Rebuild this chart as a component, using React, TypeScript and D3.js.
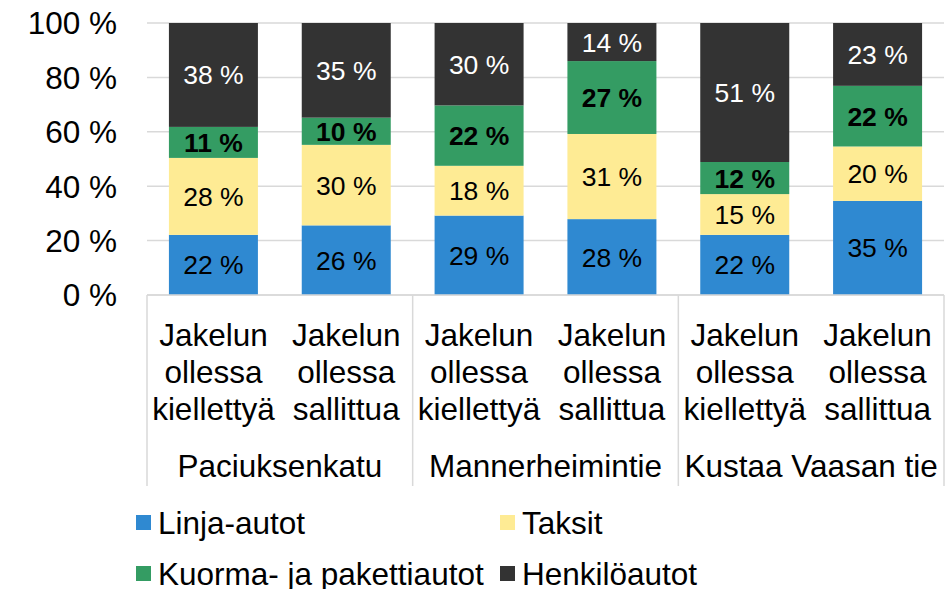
import * as d3 from "d3";

const groups = ["Paciuksenkatu", "Mannerheimintie", "Kustaa Vaasan tie"];
const situations = [
  ["Jakelun", "ollessa", "kiellettyä"],
  ["Jakelun", "ollessa", "sallittua"],
];
const seriesNames = ["Linja-autot", "Taksit", "Kuorma- ja pakettiautot", "Henkilöautot"];
const linjaAutot = [22.1, 25.6, 29.2, 27.9, 22.1, 34.6];
const taksit = [28.3, 29.6, 18.3, 31.3, 15.0, 20.0];
const kuormaAutot = [11.4, 10.0, 22.2, 26.8, 11.8, 22.3];
const henkiloAutot = [38.2, 34.8, 30.3, 14.0, 51.1, 23.1];
const yTicks = [0, 20, 40, 60, 80, 100];

const colors = ["#2f89d1", "#feeb94", "#349c63", "#333333"];
const labelFill = ["#000", "#000", "#000", "#fff"];
const labelWeight = ["normal", "normal", "bold", "normal"];
const FONT = "'Liberation Sans', Arial, sans-serif";

export default function App() {
  const W = 951, H = 589;
  const left = 147, right = 944, top = 23, bottom = 295;
  const fs = 31.5;

  const rows = linjaAutot.map((_, i) => ({
    i,
    k0: linjaAutot[i],
    k1: taksit[i],
    k2: kuormaAutot[i],
    k3: henkiloAutot[i],
  }));
  const keys = ["k0", "k1", "k2", "k3"];
  const stacked = d3.stack<any>().keys(keys)(rows);

  const x = d3.scaleBand<number>()
    .domain(rows.map(d => d.i))
    .range([left, right])
    .paddingInner(0.33)
    .paddingOuter(0.165);
  const y = d3.scaleLinear().domain([0, 100]).range([bottom, top]);
  const gx = d3.scaleBand<number>().domain([0, 1, 2]).range([left, right]);

  const legendItems = [
    { x: 136, y: 523 },
    { x: 500, y: 523 },
    { x: 136, y: 574 },
    { x: 500, y: 574 },
  ];

  return (
    <div style={{ position: "fixed", left: 0, top: 0 }}>
      <svg width={W} height={H} style={{ display: "block", background: "#fff" }} fontFamily={FONT}>
        {yTicks.map(t => (
          <g key={t}>
            <line x1={left} x2={right} y1={y(t)} y2={y(t)} stroke="#d9d9d9" strokeWidth={1.5} />
            <text x={117} y={y(t)} dy="0.36em" textAnchor="end" fontSize={fs} fill="#000">
              {`${t} %`}
            </text>
          </g>
        ))}

        {stacked.map((s, si) => (
          <g key={si}>
            {s.map((d, di) => (
              <rect key={di} x={x(di)} width={x.bandwidth()} y={y(d[1])} height={y(d[0]) - y(d[1])} fill={colors[si]} />
            ))}
          </g>
        ))}
        {stacked.map((s, si) => (
          <g key={"l" + si}>
            {s.map((d, di) => (
              <text
                key={di}
                x={x(di)! + x.bandwidth() / 2}
                y={y((d[0] + d[1]) / 2)}
                dy="0.36em"
                textAnchor="middle"
                fontSize={26.5}
                fontWeight={labelWeight[si]}
                fill={labelFill[si]}
              >
                {`${Math.round(d[1] - d[0])} %`}
              </text>
            ))}
          </g>
        ))}

        <line x1={left} x2={right} y1={bottom} y2={bottom} stroke="#d9d9d9" strokeWidth={1.5} />
        {[0, 1, 2, 3].map(k => {
          const xx = left + k * gx.bandwidth();
          return <line key={k} x1={xx} x2={xx} y1={bottom} y2={486} stroke="#d9d9d9" strokeWidth={1.5} />;
        })}

        {rows.map(d => (
          <text key={d.i} x={x(d.i)! + x.bandwidth() / 2} textAnchor="middle" fontSize={fs} fill="#000">
            {situations[d.i % 2].map((line, li) => (
              <tspan key={li} x={x(d.i)! + x.bandwidth() / 2} y={346 + li * 37}>{line}</tspan>
            ))}
          </text>
        ))}
        {groups.map((g, gi) => (
          <text key={g} x={gx(gi)! + gx.bandwidth() / 2} y={477} textAnchor="middle" fontSize={fs} fill="#000">
            {g}
          </text>
        ))}

        {seriesNames.map((name, si) => (
          <g key={name}>
            <rect x={legendItems[si].x} y={legendItems[si].y - 8} width={15} height={15} fill={colors[si]} />
            <text x={legendItems[si].x + 22} y={legendItems[si].y} dy="0.36em" fontSize={fs} fill="#000">
              {name}
            </text>
          </g>
        ))}
      </svg>
    </div>
  );
}
